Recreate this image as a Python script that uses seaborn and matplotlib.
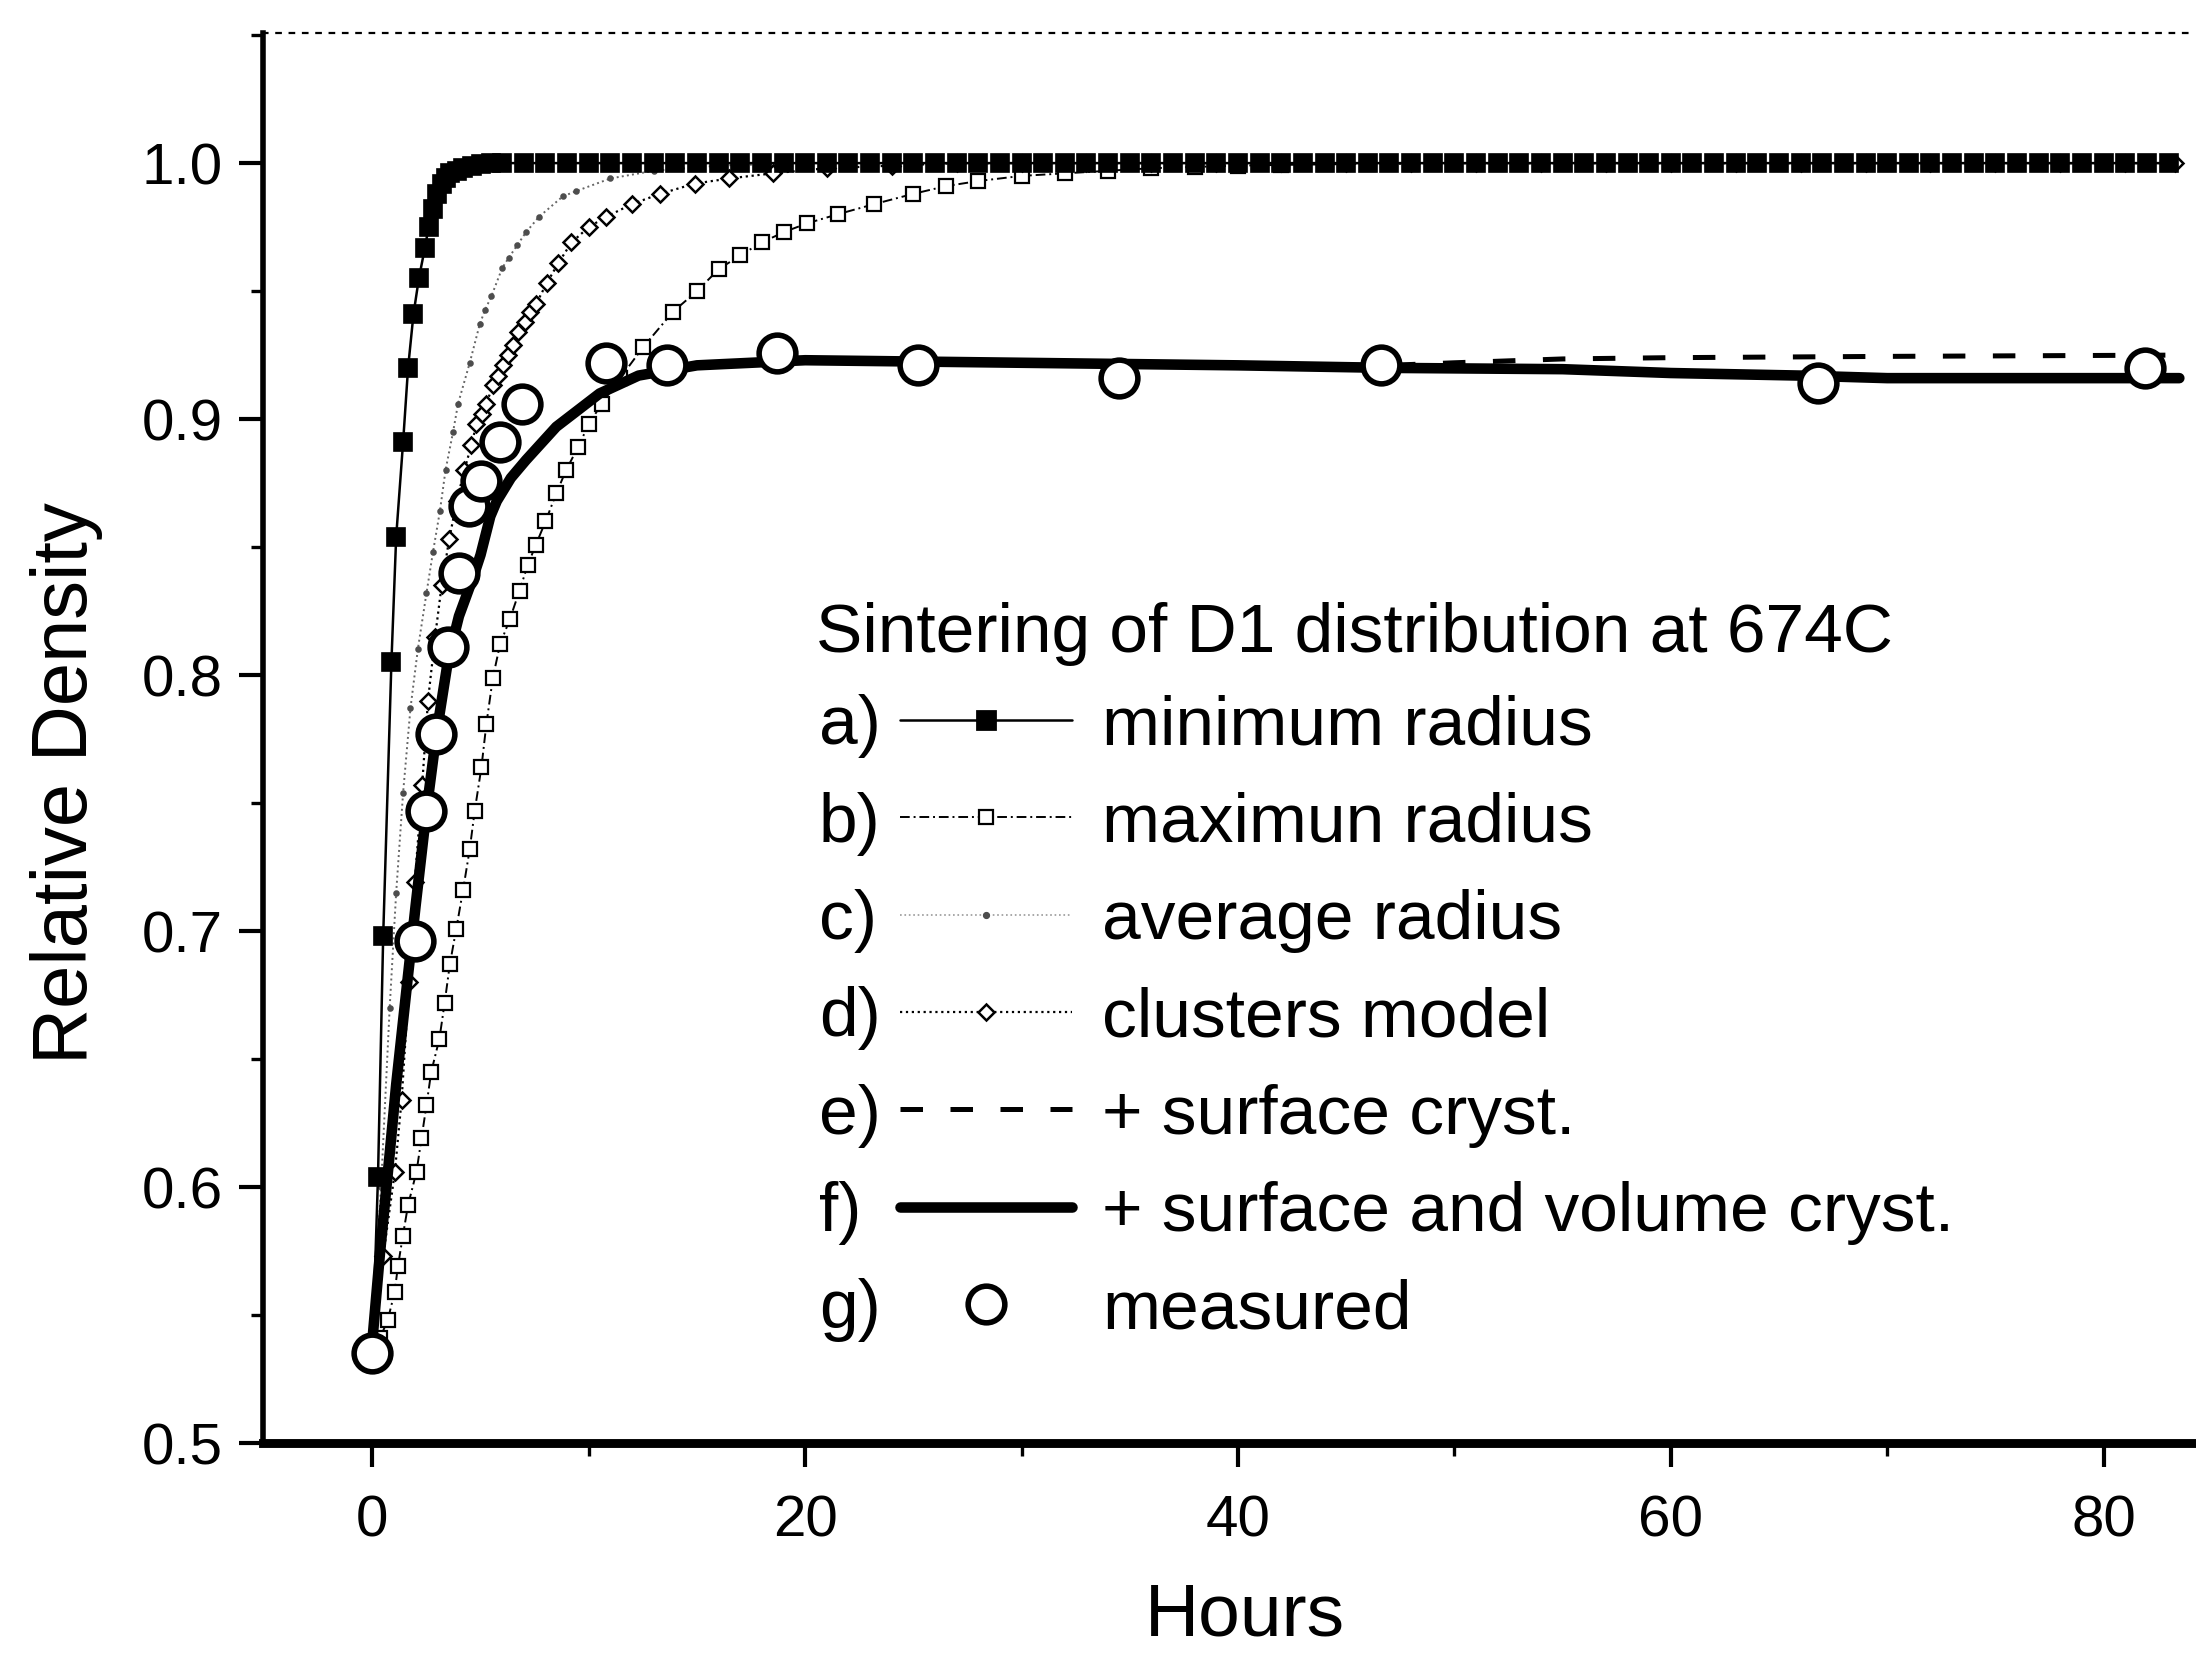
import matplotlib
matplotlib.use("Agg")
import matplotlib.pyplot as plt
from matplotlib.lines import Line2D
from matplotlib.ticker import MultipleLocator, FormatStrFormatter
import seaborn as sns

# ---------------- data ----------------
# a) minimum radius
a_hours = [0.0, 0.26, 0.5, 0.88, 1.1, 1.42, 1.65, 1.9, 2.15, 2.43, 2.6, 2.8, 3.0, 3.2, 3.4, 3.6, 3.9, 4.2, 4.6, 5.0, 5.5,
           6, 7, 8, 9, 10, 11, 12, 13, 14, 15, 16, 17, 18, 19, 20, 21, 22, 23, 24, 25, 26, 27, 28, 29, 30,
           31, 32, 33, 34, 35, 36, 37, 38, 39, 40, 41, 42, 43, 44, 45, 46, 47, 48, 49, 50, 51, 52, 53, 54, 55,
           56, 57, 58, 59, 60, 61, 62, 63, 64, 65, 66, 67, 68, 69, 70, 71, 72, 73, 74, 75, 76, 77, 78, 79, 80,
           81, 82, 83]
a_density = [0.535, 0.604, 0.698, 0.805, 0.854, 0.891, 0.920, 0.941, 0.955, 0.967, 0.975, 0.982, 0.988, 0.992,
             0.994, 0.996, 0.997, 0.998, 0.999, 0.9995, 1.0] + [1.0] * 78

# b) maximum radius
b_hours = [0.0, 0.35, 0.71, 1.03, 1.18, 1.41, 1.65, 2.04, 2.27, 2.5, 2.72, 3.1, 3.34, 3.58, 3.88, 4.19, 4.5, 4.73,
           5.04, 5.27, 5.57, 5.9, 6.36, 6.8, 7.18, 7.56, 8.0, 8.5, 8.95, 9.5, 10.0, 10.6, 11.45, 12.5, 13.9, 15.0,
           16.0, 17.0, 18.0, 19.0, 20.1, 21.5, 23.2, 25.0, 26.5, 28, 30, 32, 34, 36, 38, 40, 42, 44, 46, 48,
           50, 52, 54, 56, 58, 60, 62, 64, 66, 68, 70, 72, 74, 76, 78, 80, 82]
b_density = [0.535, 0.541, 0.548, 0.559, 0.569, 0.581, 0.593, 0.606, 0.619, 0.632, 0.645, 0.658, 0.672, 0.687,
             0.701, 0.716, 0.732, 0.747, 0.764, 0.781, 0.799, 0.812, 0.822, 0.833, 0.843, 0.851, 0.860, 0.871,
             0.880, 0.889, 0.898, 0.906, 0.916, 0.928, 0.942, 0.950, 0.9585, 0.964, 0.969, 0.973, 0.9765, 0.980,
             0.984, 0.988, 0.991, 0.993, 0.995, 0.996, 0.997, 0.998, 0.9985, 0.999, 0.9993, 0.9995, 0.9997,
             0.9998] + [1.0] * 17

# c) average radius
c_hours = [0.0, 0.4, 0.8, 1.1, 1.42, 1.76, 2.1, 2.5, 2.8, 3.12, 3.38, 3.73, 3.96, 4.5, 4.96, 5.2, 5.5, 6.0, 6.3,
           6.7, 7.1, 7.7, 8.8, 9.4, 11.0, 13.0, 16.0, 20.0, 25, 30, 40, 50, 60, 70, 83]
c_density = [0.54, 0.60, 0.67, 0.715, 0.754, 0.787, 0.81, 0.832, 0.848, 0.864, 0.880, 0.895, 0.906, 0.922, 0.937,
             0.9425, 0.948, 0.959, 0.963, 0.968, 0.973, 0.979, 0.987, 0.989, 0.994, 0.997, 0.999, 1.0, 1.0, 1.0,
             1.0, 1.0, 1.0, 1.0, 1.0]

# d) clusters model
d_hours = [0.0, 0.5, 1.04, 1.35, 1.7, 1.96, 2.3, 2.57, 2.9, 3.2, 3.55, 3.9, 4.25, 4.58, 4.81, 5.05, 5.27, 5.58,
           5.8, 6.04, 6.25, 6.5, 6.75, 7.04, 7.3, 7.57, 8.05, 8.6, 9.2, 10.0, 10.8, 12.0, 13.3, 14.9, 16.5, 18.5,
           21, 24, 27, 30, 33, 36, 39, 42, 45, 48, 51, 54, 57, 60, 63, 66, 69, 72, 75, 78, 81, 83.3]
d_density = [0.54, 0.573, 0.606, 0.634, 0.68, 0.719, 0.757, 0.79, 0.815, 0.835, 0.853, 0.868, 0.88, 0.89, 0.898,
             0.902, 0.906, 0.9135, 0.917, 0.921, 0.925, 0.929, 0.934, 0.938, 0.942, 0.945, 0.953, 0.961, 0.969,
             0.975, 0.979, 0.984, 0.988, 0.992, 0.994, 0.996, 0.998, 0.999, 1.0] + [1.0] * 19

# e) + surface cryst.
e_hours = [0.0, 0.35, 0.8, 1.1, 1.6, 2.0, 2.5, 2.96, 3.5, 4.0, 4.65, 5.0, 5.45, 5.75, 6.4, 7.1, 8.5, 10.5, 12.3,
           15.0, 20.0, 25.0, 30.0, 40.0, 47.0, 50.0, 55.0, 60.0, 70.0, 83.5]
e_density = [0.54, 0.574, 0.613, 0.64, 0.679, 0.71, 0.747, 0.777, 0.806, 0.823, 0.838, 0.847, 0.862, 0.868, 0.877,
             0.884, 0.897, 0.91, 0.917, 0.921, 0.923, 0.9225, 0.922, 0.921, 0.921, 0.922, 0.9235, 0.924, 0.9245,
             0.925]

# f) + surface and volume cryst.
f_hours = [0.0, 0.35, 0.8, 1.1, 1.6, 2.0, 2.5, 2.96, 3.5, 4.0, 4.65, 5.0, 5.45, 5.75, 6.4, 7.1, 8.5, 10.5, 12.3,
           15.0, 20.0, 25.0, 30.0, 40.0, 47.0, 55.0, 60.0, 66.0, 70.0, 83.5]
f_density = [0.54, 0.574, 0.613, 0.64, 0.679, 0.71, 0.747, 0.777, 0.806, 0.823, 0.838, 0.847, 0.862, 0.868, 0.877,
             0.884, 0.897, 0.91, 0.917, 0.921, 0.923, 0.9225, 0.922, 0.921, 0.920, 0.9195, 0.918, 0.917, 0.916,
             0.916]

# g) measured
m_hours = [0.0, 1.95, 2.5, 2.96, 3.5, 4.0, 4.45, 5.0, 5.9, 6.9, 10.8, 13.6, 18.7, 25.2, 34.5, 46.6, 66.8, 81.9]
m_density = [0.535, 0.696, 0.747, 0.777, 0.811, 0.840, 0.866, 0.876, 0.891, 0.906, 0.922, 0.921, 0.926, 0.921,
             0.916, 0.921, 0.914, 0.920]

legend_title = "Sintering of D1 distribution at 674C"
legend_letters = ["a)", "b)", "c)", "d)", "e)", "f)", "g)"]
legend_labels = ["minimum radius", "maximun radius", "average radius", "clusters model",
                 "+ surface cryst.", "+ surface and volume cryst.", "measured"]
x_ticks = [0, 20, 40, 60, 80]
y_ticks = [0.5, 0.6, 0.7, 0.8, 0.9, 1.0]

# ---------------- style ----------------
sns.set_theme(style="ticks")
plt.rcParams["font.family"] = ["Liberation Sans", "DejaVu Sans"]
plt.rcParams["axes.edgecolor"] = "black"
plt.rcParams["xtick.color"] = "black"
plt.rcParams["ytick.color"] = "black"
plt.rcParams["text.color"] = "black"
plt.rcParams["axes.labelcolor"] = "black"

fig = plt.figure(figsize=(10.98, 8.265), dpi=200)
ax = fig.add_axes([0.1198, 0.127, 0.8802, 0.853])

K = "black"
e_dash = (4.5, 5.5)

# c) average radius (faint dotted, tiny dots)
sns.lineplot(x=c_hours, y=c_density, ax=ax, color="0.4", linewidth=0.7, linestyle=":",
             marker="o", markersize=1.6, markerfacecolor="0.3", markeredgecolor="0.3",
             estimator=None, sort=False, zorder=2)
# b) maximum radius (dash-dot thin, open squares)
sns.lineplot(x=b_hours, y=b_density, ax=ax, color=K, linewidth=0.7, dashes=(5, 2, 1, 2),
             marker="s", markersize=5.2, markerfacecolor="white", markeredgecolor=K, markeredgewidth=0.8,
             estimator=None, sort=False, zorder=3)
# d) clusters model (dotted, open diamonds)
sns.lineplot(x=d_hours, y=d_density, ax=ax, color=K, linewidth=0.8, linestyle=":",
             marker="D", markersize=4.2, markerfacecolor="white", markeredgecolor=K, markeredgewidth=0.9,
             estimator=None, sort=False, zorder=3)
# a) minimum radius (thin line, filled squares)
sns.lineplot(x=a_hours, y=a_density, ax=ax, color=K, linewidth=0.9,
             marker="s", markersize=6.6, markerfacecolor=K, markeredgecolor=K, markeredgewidth=0.6,
             estimator=None, sort=False, zorder=4)
# e) + surface cryst. (dashed)
sns.lineplot(x=e_hours, y=e_density, ax=ax, color=K, linewidth=1.8, dashes=e_dash,
             estimator=None, sort=False, zorder=4)
# f) + surface and volume cryst. (thick solid)
sns.lineplot(x=f_hours, y=f_density, ax=ax, color=K, linewidth=3.8,
             estimator=None, sort=False, zorder=5)
# g) measured (large open circles)
sns.scatterplot(x=m_hours, y=m_density, ax=ax, marker="o", s=175, color="white",
                edgecolor=K, linewidth=2.0, zorder=7)

# ---------------- axes ----------------
ax.set_xlim(-5.05, 84.27)
ax.set_ylim(0.5, 1.0508)
ax.set_xticks(x_ticks)
ax.set_yticks(y_ticks)
ax.xaxis.set_minor_locator(MultipleLocator(10))
ax.yaxis.set_minor_locator(MultipleLocator(0.05))
ax.yaxis.set_major_formatter(FormatStrFormatter("%.1f"))
ax.tick_params(axis="both", which="major", direction="out", length=8.5, width=1.5, labelsize=21)
ax.tick_params(axis="both", which="minor", direction="out", length=4.5, width=1.2)
ax.tick_params(axis="x", which="major", pad=10)
ax.tick_params(axis="y", which="major", pad=6)

ax.spines["left"].set_linewidth(2.0)
ax.spines["bottom"].set_linewidth(3.2)
ax.spines["right"].set_visible(False)
ax.spines["top"].set_linewidth(0.8)
ax.spines["top"].set_linestyle((0, (2, 4)))

ax.set_xlabel("Hours", fontsize=27, va="baseline")
ax.xaxis.set_label_coords(0.508, -0.1365)
ax.set_ylabel("Relative Density", fontsize=28)
ax.yaxis.set_label_coords(-0.0828, 0.468)

# ---------------- legend ----------------
handles = [
    Line2D([], [], color=K, lw=0.9, marker="s", ms=6.6, mfc=K, mec=K),
    Line2D([], [], color=K, lw=0.7, dashes=(5, 2, 1, 2), marker="s", ms=5.2, mfc="white", mec=K, mew=0.8),
    Line2D([], [], color="0.6", lw=0.6, linestyle=":", marker="o", ms=1.6, mfc="0.3", mec="0.3"),
    Line2D([], [], color=K, lw=0.8, linestyle=":", marker="D", ms=4.2, mfc="white", mec=K, mew=0.9),
    Line2D([], [], color=K, lw=1.8, dashes=e_dash),
    Line2D([], [], color=K, lw=3.8),
    Line2D([], [], color=K, lw=0, marker="o", ms=13.2, mfc="white", mec=K, mew=2.0),
]
leg = ax.legend(handles, legend_labels, loc="upper left", bbox_to_anchor=(0.3295, 0.531),
                frameon=False, fontsize=25, handlelength=2.48, handletextpad=0.43, labelspacing=0.48,
                borderpad=0, borderaxespad=0, numpoints=1)
leg.set_zorder(8)

ax.text(0.2863, 0.5738, legend_title, transform=ax.transAxes, fontsize=25, va="center", ha="left")
for letter, txt in zip(legend_letters, leg.get_texts()):
    ax.annotate(letter, xy=(0.2876, 0.5), xycoords=("axes fraction", txt), fontsize=25,
                va="center", ha="left", zorder=9)

fig.canvas.draw()
fig.savefig("out.png", dpi=200)
